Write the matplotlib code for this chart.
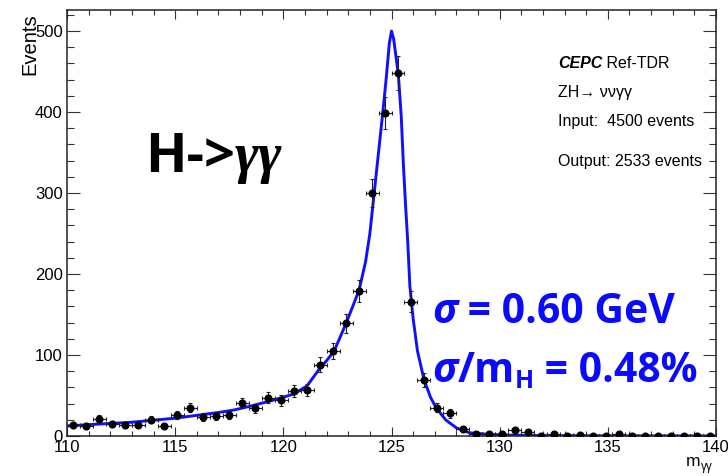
import numpy as np
import matplotlib
matplotlib.use('Agg')
import matplotlib.pyplot as plt
from matplotlib.ticker import MultipleLocator

W, H = 728, 476

# binned diphoton mass (bin width 0.6 GeV)
mass = [110.3, 110.9, 111.5, 112.1, 112.7, 113.3, 113.9, 114.5, 115.1, 115.7,
        116.3, 116.9, 117.5, 118.1, 118.7, 119.3, 119.9, 120.5, 121.1, 121.7,
        122.3, 122.9, 123.5, 124.1, 124.7, 125.3, 125.9, 126.5, 127.1, 127.7,
        128.3, 128.9, 129.5, 130.1, 130.7, 131.3, 131.9, 132.5, 133.1, 133.7,
        134.3, 134.9, 135.5, 136.1, 136.7, 137.3, 137.9, 138.5, 139.1, 139.7]
events = [14, 12, 21, 15, 13, 14, 20, 12, 26, 35,
          24, 25, 26, 41, 34, 47, 44, 55, 57, 88,
          105, 139, 179, 300, 399, 448, 166, 69, 35, 28,
          9, 2, 2, 2, 7, 5, 0, 2, 0, 1,
          0, 0, 2, 0, 0, 0, 0, 0, 0, 0]

# fit curve
fit_x = [110.0, 111.0, 112.0, 113.0, 114.0, 115.0, 116.0, 117.0, 117.7, 118.5,
         119.5, 120.5, 121.1, 121.7, 122.0, 122.35, 122.9, 123.5, 123.8, 124.0,
         124.2, 124.4, 124.6, 124.75, 124.9, 125.0, 125.1, 125.2, 125.32, 125.45,
         125.55, 125.65, 125.75, 125.85, 126.0, 126.2, 126.5, 126.8, 127.06, 127.5,
         128.0, 128.6, 129.5, 130.5, 132.0, 135.0, 140.0]
fit_y = [12.3, 14, 15.5, 17, 19.5, 22, 25.5, 29, 32, 37,
         44, 52, 62, 84, 93, 105, 139, 180, 215, 250,
         300, 350, 400, 440, 485, 500, 490, 470, 445, 395,
         335, 285, 240, 185, 145, 105, 70, 48, 35, 20,
         10, 4, 2, 1, 0.5, 0.2, 0.1]

plt.rcParams['font.family'] = ['Liberation Sans', 'DejaVu Sans']

fig = plt.figure(figsize=(W / 100, H / 100), dpi=100)
ax = fig.add_axes([67 / W, 40 / H, 649 / W, 426 / H])

ax.plot(fit_x, fit_y, color='#1010ff', lw=2.1, zorder=2)
ax.errorbar(mass, events, xerr=0.3, yerr=np.sqrt(events), fmt='o', color='black',
            ms=4.8, elinewidth=0.8, capsize=1.5, capthick=0.8, ecolor='#222222', zorder=3)

ax.set_xlim(110, 140)
ax.set_ylim(0, 526)
ax.xaxis.set_major_locator(MultipleLocator(5))
ax.xaxis.set_minor_locator(MultipleLocator(1))
ax.yaxis.set_major_locator(MultipleLocator(100))
ax.yaxis.set_minor_locator(MultipleLocator(20))
ax.tick_params(which='both', direction='in', top=True, right=True, width=0.8,
               color='#333333', labelsize=12, pad=3)
ax.tick_params(axis='x', which='major', length=6.5)
ax.tick_params(axis='x', which='minor', length=3.6)
ax.tick_params(axis='y', which='major', length=9.4)
ax.tick_params(axis='y', which='minor', length=5)
for sp in ax.spines.values():
    sp.set_linewidth(1.1)
    sp.set_color('#222222')


def fx(x):
    return x / W


def fy(y):
    return 1 - y / H


def after(prev, s, y, **kw):
    return ax.annotate(s, xy=(1, fy(y)), xycoords=(prev, 'figure fraction'),
                       ha='left', va='baseline', annotation_clip=False, **kw)


fig.text(fx(30), fy(13), 'Events', rotation=90, ha='center', va='top', fontsize=14.5)

m = fig.text(fx(686), fy(466), 'm', ha='left', va='baseline', fontsize=12.5)
after(m, 'γγ', 470, fontsize=8.5)

# labels top right
t = fig.text(fx(558), fy(68), 'CEPC', fontsize=11.5, weight='bold', style='italic')
after(t, ' Ref-TDR', 68, fontsize=11.5)
fig.text(fx(558), fy(97), 'ZH→ ννγγ', fontsize=11.5)
fig.text(fx(558), fy(126), 'Input:  4500 events', fontsize=11.5)
fig.text(fx(558), fy(166), 'Output: 2533 events', fontsize=11.5)

# channel label
t = fig.text(fx(145), fy(172), 'H->', fontsize=39, weight='bold', family='Open Sans')
after(t, 'γγ', 172, fontsize=41, weight='bold', style='italic', family='Liberation Serif')

# resolution
blue = '#0a0aff'
fs = 29.5
t = fig.text(fx(432), fy(323), 'σ', fontsize=fs, weight='bold', style='italic',
             family='Open Sans', color=blue)
after(t, ' = 0.60 GeV', 323, fontsize=fs, weight='bold', family='Open Sans', color=blue)
t = fig.text(fx(432), fy(382), 'σ', fontsize=fs, weight='bold', style='italic',
             family='Open Sans', color=blue)
t = after(t, '/m', 382, fontsize=fs, weight='bold', family='Open Sans', color=blue)
h = after(t, 'H', 388, fontsize=18, weight='bold', family='Open Sans', color=blue)
after(h, ' = 0.48%', 382, fontsize=fs, weight='bold', family='Open Sans', color=blue)

fig.savefig('out.png', dpi=100)
